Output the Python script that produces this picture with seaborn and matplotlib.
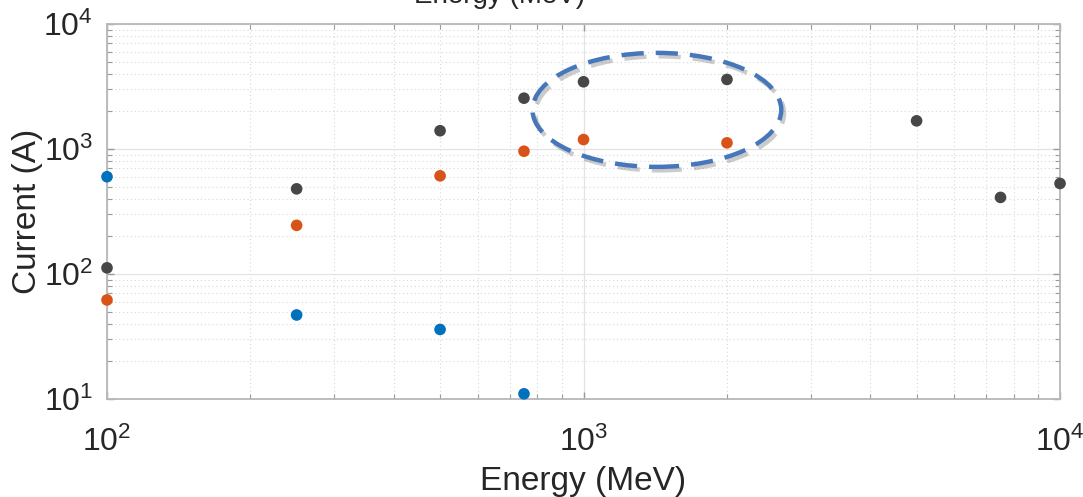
import matplotlib
matplotlib.use("Agg")
import matplotlib.pyplot as plt
import matplotlib.patheffects as pe
from matplotlib.patches import Ellipse
from matplotlib.ticker import LogLocator, NullFormatter
import numpy as np
import pandas as pd
import seaborn as sns

# Measured current versus beam energy, three configurations
energy_blue = [100, 250, 500, 750]
current_blue = [600, 47, 36, 11]

energy_orange = [100, 250, 500, 750, 1000, 2000]
current_orange = [62, 245, 610, 960, 1190, 1120]

energy_gray = [100, 250, 500, 750, 1000, 2000, 5000, 7500, 10000]
current_gray = [112, 480, 1400, 2550, 3450, 3600, 1680, 410, 530]

series_names = ["config A", "config B", "config C"]
series_colors = ["#0072BD", "#D95319", "#474747"]

df = pd.concat([
    pd.DataFrame({"Energy": energy_blue, "Current": current_blue, "series": series_names[0]}),
    pd.DataFrame({"Energy": energy_orange, "Current": current_orange, "series": series_names[1]}),
    pd.DataFrame({"Energy": energy_gray, "Current": current_gray, "series": series_names[2]}),
], ignore_index=True)

sns.set_theme(style="white")
plt.rcParams["font.family"] = ["Liberation Sans", "DejaVu Sans"]
plt.rcParams["mathtext.fontset"] = "custom"
plt.rcParams["mathtext.rm"] = "Liberation Sans"
plt.rcParams["mathtext.it"] = "Liberation Sans:italic"
plt.rcParams["mathtext.bf"] = "Liberation Sans:bold"

fig = plt.figure(figsize=(10.83, 4.97), dpi=100)
ax = fig.add_axes([0.0988, 0.1972, 0.8800, 0.7545])

sns.scatterplot(
    data=df, x="Energy", y="Current", hue="series",
    palette=dict(zip(series_names, series_colors)),
    s=70, edgecolor="none", legend=False, ax=ax, clip_on=False, zorder=5,
)

ax.set_xscale("log")
ax.set_yscale("log")
ax.set_xlim(100, 10000)
ax.set_ylim(10, 10000)

ax.xaxis.set_major_locator(LogLocator(base=10, numticks=10))
ax.yaxis.set_major_locator(LogLocator(base=10, numticks=10))
ax.xaxis.set_minor_locator(LogLocator(base=10, subs=np.arange(2, 10), numticks=20))
ax.yaxis.set_minor_locator(LogLocator(base=10, subs=np.arange(2, 10), numticks=20))
ax.xaxis.set_minor_formatter(NullFormatter())
ax.yaxis.set_minor_formatter(NullFormatter())

ax.grid(True, which="major", color="#e3e3e3", linestyle="-", linewidth=0.9)
ax.grid(True, which="minor", color="#d8d8d8", linestyle=(0, (1, 2.5)), linewidth=0.8)
ax.set_axisbelow(True)

for side in ["left", "right", "top", "bottom"]:
    ax.spines[side].set_visible(True)
    ax.spines[side].set_color("#b8b8b8")
    ax.spines[side].set_linewidth(1.3)

ax.tick_params(which="both", direction="in", top=True, right=True,
               bottom=True, left=True, color="#9a9a9a")
ax.tick_params(which="major", length=5, width=1.0, labelsize=23,
               labelcolor="#262626")
ax.tick_params(axis="x", which="major", pad=20)
ax.tick_params(axis="y", which="major", pad=10)
ax.tick_params(which="minor", length=3.5, width=0.8)

ax.set_xlabel("Energy (MeV)", fontsize=24, color="#262626", labelpad=6)
ax.set_ylabel("Current (A)", fontsize=24, color="#262626", labelpad=0)

# Highlight around the 1-2 GeV points
ring = Ellipse((0.577, 0.771), 0.261, 0.304, transform=ax.transAxes,
               fill=False, edgecolor="#4677BA", linewidth=3.2,
               linestyle=(0, (5, 2.7)), zorder=6, clip_on=False)
ring.set_path_effects([
    pe.SimpleLineShadow(offset=(2, -2.5), shadow_color="#555555", alpha=0.3),
    pe.Normal(),
])
ax.add_patch(ring)

# Axis caption from a stacked panel above, partly outside the canvas
fig.text(500 / 1083, 1 - 3 / 497, "Energy (MeV)", ha="center", va="baseline",
         fontsize=20, color="#262626")

fig.savefig("out.png", dpi=100)
